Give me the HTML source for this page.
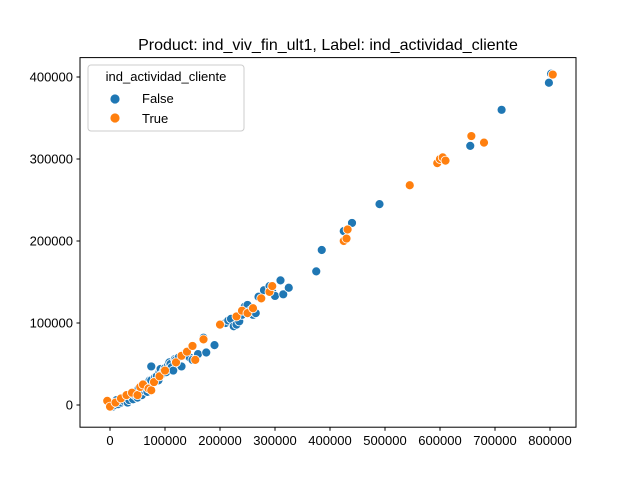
<!DOCTYPE html>
<html><head><meta charset="utf-8"><style>
html,body{margin:0;padding:0;background:#fff;}
svg text{font-family:"Liberation Sans","DejaVu Sans",sans-serif;}
</style></head><body>
<svg id="chart" width="640" height="480" viewBox="0 0 640 480" xmlns="http://www.w3.org/2000/svg">
<rect width="640" height="480" fill="#fff"/>
<text x="328" y="50" font-size="16" text-anchor="middle">Product: ind_viv_fin_ult1, Label: ind_actividad_cliente</text>
<g id="marks"></g>
<rect x="80" y="57.6" width="496" height="369.6" fill="none" stroke="#000" stroke-width="1"/>
<g id="axes"></g>
<g>
<rect x="88" y="65" width="156" height="66" rx="3" fill="#fff" fill-opacity="0.8" stroke="#ccc"/>
<text x="166" y="81" font-size="13" text-anchor="middle">ind_actividad_cliente</text>
<circle cx="115" cy="99" r="5" fill="#1f77b4" stroke="#fff" stroke-width="0.8"/>
<text x="142" y="103" font-size="13">False</text>
<circle cx="115" cy="118" r="5" fill="#ff7f0e" stroke="#fff" stroke-width="0.8"/>
<text x="142" y="123" font-size="13">True</text>
</g>
</svg>
<script>
const xTicks=[0,100000,200000,300000,400000,500000,600000,700000,800000];
const yTicks=[0,100000,200000,300000,400000];
const trueX=[-5,0,10,20,30,40,50,55,60,70,75,80,90,100,120,130,140,150,155,170,200,230,240,250,260,275,290,295,425,430,432,545,595,600,605,610,657,680,805];
const trueY=[5,-2,3,8,12,15,12,22,25,20,18,28,35,42,52,60,65,72,55,80,98,108,115,112,118,130,138,145,200,203,214,268,295,300,302,298,328,320,403];
const falseX=[-3,0,5,8,10,12,15,18,20,22,25,28,30,32,35,38,40,42,45,48,50,52,55,58,60,62,65,68,70,72,75,75,80,82,85,88,90,92,95,98,100,102,105,108,110,112,115,118,120,125,130,135,140,145,150,160,170,175,190,210,215,220,225,230,235,240,245,250,255,260,265,270,280,290,295,300,310,315,325,375,385,425,440,490,655,712,798,802];
const falseY=[4,2,-2,3,0,6,1,4,3,8,5,10,8,3,6,14,10,7,12,16,9,20,15,12,18,24,20,16,25,30,30,47,28,34,35,30,40,44,38,42,45,40,48,52,50,46,42,56,55,58,47,62,60,58,55,62,82,64,73,100,103,105,96,98,102,110,120,122,115,110,112,132,140,145,138,133,152,135,143,163,189,212,222,245,316,360,393,404];
const sx=v=>110+v/100000*55;
const sy=v=>405-v/100000*82;
const NS="http://www.w3.org/2000/svg";
const marks=document.getElementById('marks');
const axes=document.getElementById('axes');
function dot(x,y,c,n){
  const e=document.createElementNS(NS,'circle');
  e.setAttribute('cx',sx(x*1000));e.setAttribute('cy',sy(y*1000));e.setAttribute('r',4.5);
  e.setAttribute('fill',c);e.setAttribute('stroke','#fff');e.setAttribute('stroke-width','0.8');
  
  
  marks.appendChild(e);
}
falseX.forEach((x,i)=>dot(x,falseY[i],'#1f77b4','point-false'));
trueX.forEach((x,i)=>dot(x,trueY[i],'#ff7f0e','point-true'));
xTicks.forEach(t=>{
  const l=document.createElementNS(NS,'line');
  l.setAttribute('x1',sx(t));l.setAttribute('x2',sx(t));l.setAttribute('y1',427.2);l.setAttribute('y2',430.7);l.setAttribute('stroke','#000');
  
  
  axes.appendChild(l);
  const tx=document.createElementNS(NS,'text');
  tx.setAttribute('x',sx(t));tx.setAttribute('y',445);tx.setAttribute('font-size','13');tx.setAttribute('text-anchor','middle');
  tx.textContent=t;
  
  
  axes.appendChild(tx);
});
yTicks.forEach(t=>{
  const l=document.createElementNS(NS,'line');
  l.setAttribute('x1',76.5);l.setAttribute('x2',80);l.setAttribute('y1',sy(t));l.setAttribute('y2',sy(t));l.setAttribute('stroke','#000');
  
  
  axes.appendChild(l);
  const tx=document.createElementNS(NS,'text');
  tx.setAttribute('x',73);tx.setAttribute('y',sy(t)+4.5);tx.setAttribute('font-size','13');tx.setAttribute('text-anchor','end');
  tx.textContent=t;
  
  
  axes.appendChild(tx);
});
</script>
</body></html>
